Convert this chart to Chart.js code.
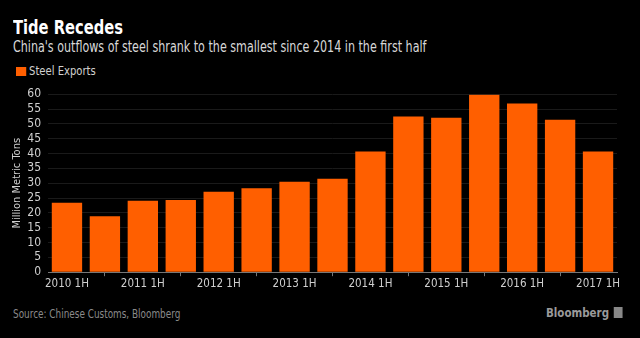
<!DOCTYPE html>
<html>
<head>
<meta charset="utf-8">
<script src="https://cdn.jsdelivr.net/npm/chart.js@4"></script>
<style>
  body { margin: 0; background: #000; }
  #wrap { position: relative; width: 640px; height: 338px; background: #000; overflow: hidden;
    font-family: "DejaVu Sans Condensed", "DejaVu Sans", sans-serif; }
  .sq { transform-origin: 0 0; white-space: nowrap; }
  #title { position: absolute; left: 13px; top: 16px; color: #fff; font-size: 19px; font-weight: bold; transform: scaleX(0.86); }
  #subtitle { position: absolute; left: 13px; top: 38px; color: #d8d8d8; font-size: 15px; transform: scaleX(0.825); }
  #legend { position: absolute; left: 16px; top: 64px; color: #d0d0d0; font-size: 12px; transform: scaleX(0.93); }
  #legend span { display: inline-block; width: 11px; height: 9px; background: #ff5f00; margin-right: 3px; vertical-align: -1px; }
  #source { position: absolute; left: 13px; top: 306px; color: #8a8a8a; font-size: 13px; transform: scaleX(0.76); }
  #brand { position: absolute; left: 546px; top: 305px; color: #9a9a9a; font-size: 13px; font-weight: bold; transform: scaleX(0.88); }
  #brand span { display: inline-block; width: 10px; height: 11px; background: #888; margin-left: 5px; vertical-align: -1px; }
  #box { position: absolute; left: 0; top: 80px; width: 640px; height: 212px; }
</style>
</head>
<body>
<div id="wrap">
  <div id="title" class="sq">Tide Recedes</div>
  <div id="subtitle" class="sq">China's outflows of steel shrank to the smallest since 2014 in the first half</div>
  <div id="legend" class="sq"><span></span>Steel Exports</div>
  <div id="box"><canvas id="chart"></canvas></div>
  <div id="source" class="sq">Source: Chinese Customs, Bloomberg</div>
  <div id="brand" class="sq">Bloomberg<span></span></div>
</div>
<script>
let periods = [
  "2010 1H", "2010 2H", "2011 1H", "2011 2H", "2012 1H", "2012 2H",
  "2013 1H", "2013 2H", "2014 1H", "2014 2H", "2015 1H", "2015 2H",
  "2016 1H", "2016 2H", "2017 1H",
];
let steelExports = [
  23.4, 18.9, 24.1, 24.3, 27.1, 28.3, 30.5, 31.5, 40.7, 52.5, 52.1, 59.8, 56.9, 51.4, 40.7,
];
let yTicks = [0, 5, 10, 15, 20, 25, 30, 35, 40, 45, 50, 55, 60];

let font = "'DejaVu Sans Condensed', 'DejaVu Sans', sans-serif";

let ctx = document.getElementById("chart").getContext("2d");
let chart = new Chart(ctx, {
  type: "bar",
  data: {
    labels: periods,
    datasets: [
      {
        label: "Steel Exports",
        data: steelExports,
        backgroundColor: "#ff5f00",
        barPercentage: 0.8,
        categoryPercentage: 1,
      },
    ],
  },
  options: {
    responsive: true,
    maintainAspectRatio: false,
    animation: false,
    layout: { padding: { top: 6, right: 23, bottom: 0, left: 0 } },
    plugins: { legend: { display: false }, tooltip: { enabled: false } },
    scales: {
      x: {
        grid: { drawOnChartArea: false, drawTicks: true, tickLength: 4, color: "#777" },
        border: { color: "#777" },
        ticks: {
          autoSkip: false,
          maxRotation: 0,
          color: "#cfcfcf",
          font: { family: font, size: 11.5 },
          padding: 1,
          callback: function (value, index) {
            return index % 2 === 0 ? periods[index] : null;
          },
        },
      },
      y: {
        min: 0,
        max: 60,
        afterBuildTicks: function (axis) {
          axis.ticks = yTicks.map((v) => ({ value: v }));
        },
        afterFit: function (axis) {
          axis.width = 48;
        },
        grid: { color: "#1a1a1a", drawTicks: false },
        border: { display: false },
        ticks: {
          autoSkip: false,
          color: "#cfcfcf",
          font: { family: font, size: 12 },
          padding: 7,
        },
        title: {
          display: true,
          text: "Million Metric Tons",
          color: "#cfcfcf",
          font: { family: font, size: 11 },
          padding: { top: 11, bottom: 0 },
        },
      },
    },
  },
});
</script>
</body>
</html>
